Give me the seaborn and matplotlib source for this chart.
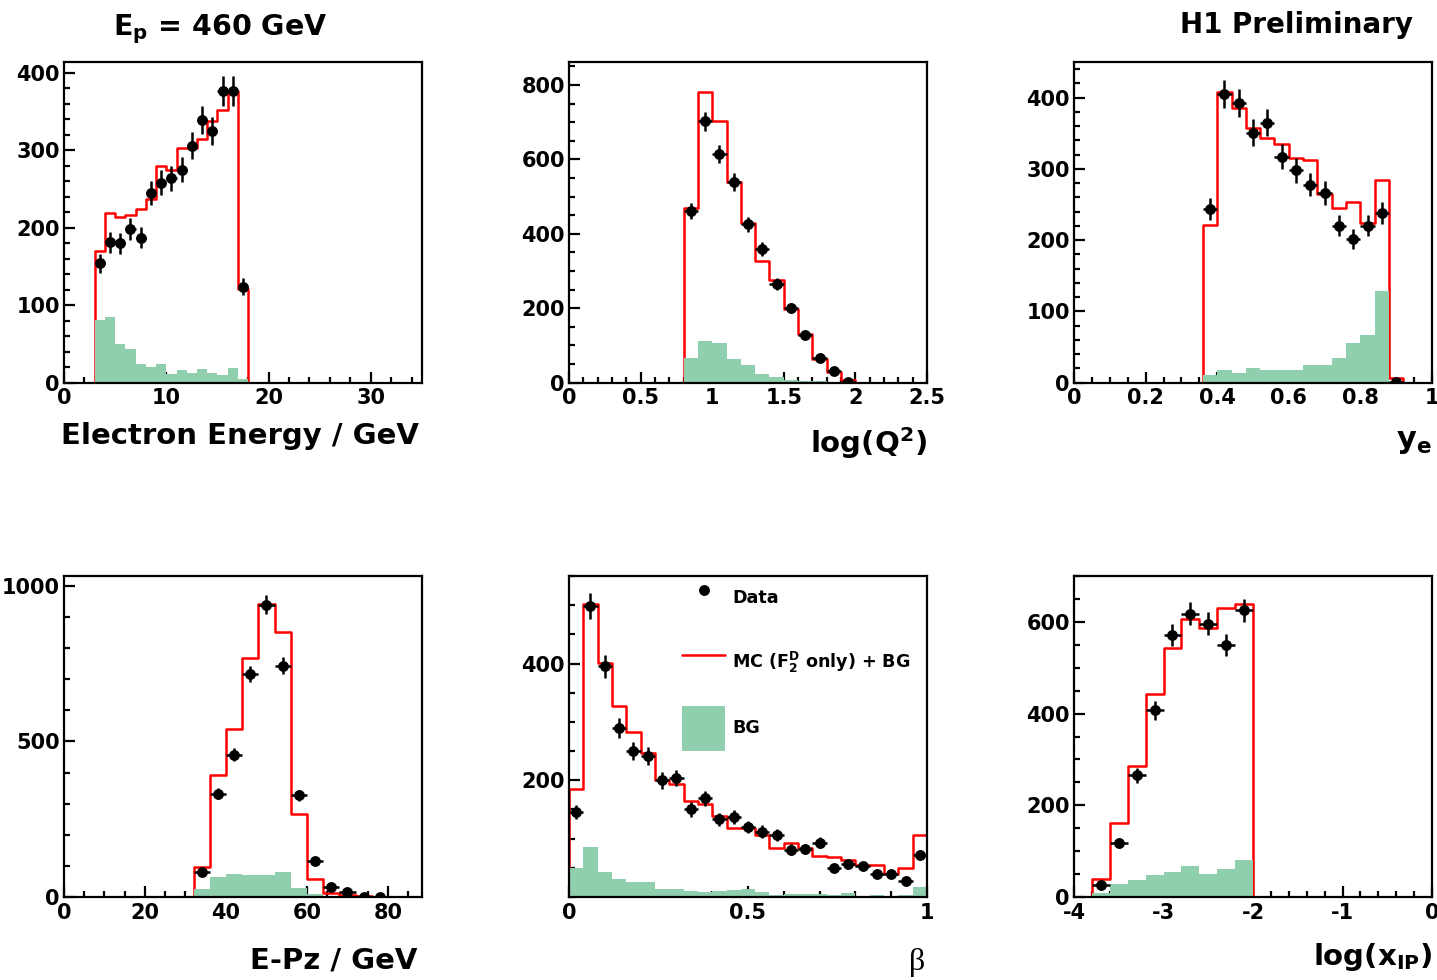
import numpy as np
import pandas as pd
import matplotlib
matplotlib.use("Agg")
import matplotlib.pyplot as plt
from matplotlib.ticker import MultipleLocator, FixedLocator, FuncFormatter
from matplotlib.lines import Line2D
from matplotlib.patches import Patch
import seaborn as sns

# ---------------- data ----------------
# Electron energy / GeV
ee_edges = np.arange(3, 19, 1.0)
ee_mc = [170, 219, 214, 216, 224, 237, 280, 275, 303, 303, 314, 338, 352, 376, 121]
ee_bg = [81, 85, 50, 43, 24, 20, 24, 11, 16, 12, 17, 12, 10, 19, 5]
ee_data = [154, 181, 180, 198, 187, 245, 258, 264, 275, 306, 339, 325, 376, 376, 124]

# log(Q^2)
q2_edges = np.round(np.arange(0.8, 2.05, 0.1), 2)
q2_mc = [469, 782, 704, 539, 430, 326, 275, 199, 130, 64, 27, 6]
q2_bg = [67, 111, 106, 63, 48, 24, 15, 6, 4, 3, 2, 1]
q2_data = [460, 702, 615, 539, 425, 358, 264, 200, 127, 66, 30, 2]

# y_e
ye_edges = np.round(np.arange(0.36, 0.93, 0.04), 2)
ye_mc = [221, 408, 385, 357, 343, 335, 315, 312, 265, 245, 253, 224, 285, 6]
ye_bg = [10, 18, 13, 20, 17, 17, 18, 25, 24, 34, 55, 66, 128, 0]
ye_data = [244, 405, 392, 351, 365, 317, 298, 278, 266, 220, 202, 220, 238, 1]

# E-Pz / GeV
epz_edges = np.arange(32, 81, 4.0)
epz_mc = [97, 391, 539, 767, 943, 853, 266, 59, 13, 5, 2, 1]
epz_bg = [27, 65, 73, 72, 72, 79, 30, 11, 3, 0, 0, 0]
epz_data = [81, 332, 458, 717, 940, 744, 327, 116, 32, 16, 1, 0]

# beta
beta_edges = np.round(np.linspace(0, 1, 26), 2)
beta_mc = [185, 502, 401, 327, 283, 247, 200, 193, 165, 159, 138, 119, 118,
           106, 84, 93, 84, 71, 69, 64, 54, 54, 40, 49, 106]
beta_bg = [49, 85, 43, 30, 26, 25, 13, 13, 11, 9, 11, 12, 13,
           9, 4, 5, 5, 5, 3, 7, 1, 3, 2, 3, 17]
beta_data = [145, 498, 395, 290, 250, 241, 200, 204, 150, 169, 133, 137, 120,
             112, 106, 81, 82, 93, 50, 57, 53, 39, 39, 28, 72]

# log(x_IP)
xp_edges = np.round(np.arange(-3.8, -1.95, 0.2), 2)
xp_mc = [40, 161, 285, 443, 544, 606, 587, 631, 639]
xp_bg = [9, 29, 37, 49, 55, 67, 51, 60, 80]
xp_data = [26, 117, 265, 407, 572, 618, 596, 550, 625]

# ---------------- style ----------------
sns.set_style("ticks")
plt.rcParams.update({
    "font.family": ["DejaVu Sans"],
    "font.weight": "bold",
    "mathtext.fontset": "custom",
    "mathtext.rm": "DejaVu Sans:bold",
    "mathtext.it": "DejaVu Sans:bold",
    "mathtext.bf": "DejaVu Sans:bold",
    "mathtext.sf": "DejaVu Sans:bold",
    "axes.unicode_minus": False,
    "axes.linewidth": 1.6,
    "axes.edgecolor": "black",
    "text.color": "black",
    "axes.labelcolor": "black",
    "xtick.color": "black",
    "ytick.color": "black",
})

GREEN = "#8fcfae"
RED = "#ff0000"

W, H = 1437, 980
fig = plt.figure(figsize=(W / 100, H / 100), dpi=100)

lefts = [64, 569, 1074]
width = 358
rows = [(62, 382.5), (576, 897)]


def make_ax(col, row):
    top, bot = rows[row]
    return fig.add_axes([lefts[col] / W, 1 - bot / H, width / W, (bot - top) / H])


def draw(ax, edges, mc, bg, data):
    edges = np.asarray(edges, float)
    w = np.diff(edges)
    centers = edges[:-1] + w / 2
    ext = np.concatenate([[edges[0] - w[0]], edges, [edges[-1] + w[-1]]])
    df = pd.DataFrame({"x": centers, "mc": np.asarray(mc, float),
                       "bg": np.asarray(bg, float)})
    sns.histplot(data=df, x="x", weights="mc", bins=list(ext), element="step",
                 fill=False, color=RED, linewidth=1.8, ax=ax, zorder=2.1)
    sns.histplot(data=df, x="x", weights="bg", bins=list(edges), element="step",
                 fill=True, color=GREEN, alpha=1, linewidth=0, ax=ax, zorder=2.2)
    d = np.asarray(data, float)
    ax.errorbar(centers, d, yerr=np.sqrt(d), xerr=w / 2, fmt="o", color="black",
                ms=6.8, elinewidth=1.8, capsize=0, zorder=5)


def style(ax, xlim, ylim, xmaj, xmin, ymaj, ymin):
    ax.set_xlim(*xlim)
    ax.set_ylim(*ylim)
    ax.xaxis.set_major_locator(MultipleLocator(xmaj))
    ax.xaxis.set_minor_locator(MultipleLocator(xmin))
    if isinstance(ymaj, (list, tuple)):
        ax.yaxis.set_major_locator(FixedLocator(ymaj))
    else:
        ax.yaxis.set_major_locator(MultipleLocator(ymaj))
    ax.yaxis.set_minor_locator(MultipleLocator(ymin))
    fmt = FuncFormatter(lambda v, p: "%g" % round(v, 6))
    ax.xaxis.set_major_formatter(fmt)
    ax.yaxis.set_major_formatter(fmt)
    ax.tick_params(which="both", direction="in", top=False, right=False,
                   width=1.6, labelsize=15, pad=3, colors="black")
    ax.tick_params(axis="x", pad=4)
    ax.tick_params(which="major", length=8)
    ax.tick_params(which="minor", length=4.5)
    for lab in ax.get_xticklabels() + ax.get_yticklabels():
        lab.set_fontweight("bold")
    ax.set_xlabel("")
    ax.set_ylabel("")
    for s in ax.spines.values():
        s.set_visible(True)
        s.set_linewidth(1.6)
        s.set_color("black")


ax1 = make_ax(0, 0)
draw(ax1, ee_edges, ee_mc, ee_bg, ee_data)
style(ax1, (0, 35), (0, 414), 10, 2, 100, 20)

ax2 = make_ax(1, 0)
draw(ax2, q2_edges, q2_mc, q2_bg, q2_data)
style(ax2, (0, 2.5), (0, 862), 0.5, 0.1, 200, 50)

ax3 = make_ax(2, 0)
draw(ax3, ye_edges, ye_mc, ye_bg, ye_data)
style(ax3, (0, 1), (0, 450), 0.2, 0.05, 100, 20)

ax4 = make_ax(0, 1)
draw(ax4, epz_edges, epz_mc, epz_bg, epz_data)
style(ax4, (0, 88.4), (0, 1032), 20, 5, 500, 100)

ax5 = make_ax(1, 1)
draw(ax5, beta_edges, beta_mc, beta_bg, beta_data)
style(ax5, (0, 1), (0, 550), 0.5, 0.1, [200, 400], 50)

ax6 = make_ax(2, 1)
draw(ax6, xp_edges, xp_mc, xp_bg, xp_data)
style(ax6, (-4, 0), (0, 700), 1, 0.2, 200, 50)

# legend
handles = [
    Line2D([], [], marker="o", color="black", linestyle="none", ms=6.8),
    Line2D([], [], color=RED, linewidth=1.8),
    Patch(facecolor=GREEN, edgecolor="none"),
]
labels = ["Data", r"MC (F$_2^D$ only) + BG", "BG"]
ax5.legend(handles, labels, loc="upper left", bbox_to_anchor=(0.317, 1.0),
           frameon=False, borderpad=0, borderaxespad=0, handlelength=2.45,
           handleheight=3.6, handletextpad=0.4, labelspacing=1.12,
           prop={"family": "DejaVu Sans", "weight": "bold", "size": 12.6})


def ftext(x, y, s, ha="right", size=21, **kw):
    fig.text(x / W, 1 - y / H, s, ha=ha, va="baseline", fontsize=size,
             fontweight="bold", color="black", **kw)


ftext(113, 35, r"E$_\mathrm{p}$ = 460 GeV", ha="left", size=20.5)
ftext(1413, 33, "H1 Preliminary", size=20)
ftext(419, 444, "Electron Energy / GeV")
ftext(927, 453, r"log(Q$^2$)")
ftext(1432, 448, r"y$_\mathrm{e}$", size=22)
ftext(417, 968, "E-Pz / GeV")
fig.text(925 / W, 1 - 970 / H, "β", ha="right", va="baseline", fontsize=23,
         family=["Liberation Serif", "DejaVu Serif"], fontweight="normal",
         color="black")
ftext(1432, 965, r"log(x$_\mathrm{IP}$)")

fig.savefig("out.png", dpi=100)
